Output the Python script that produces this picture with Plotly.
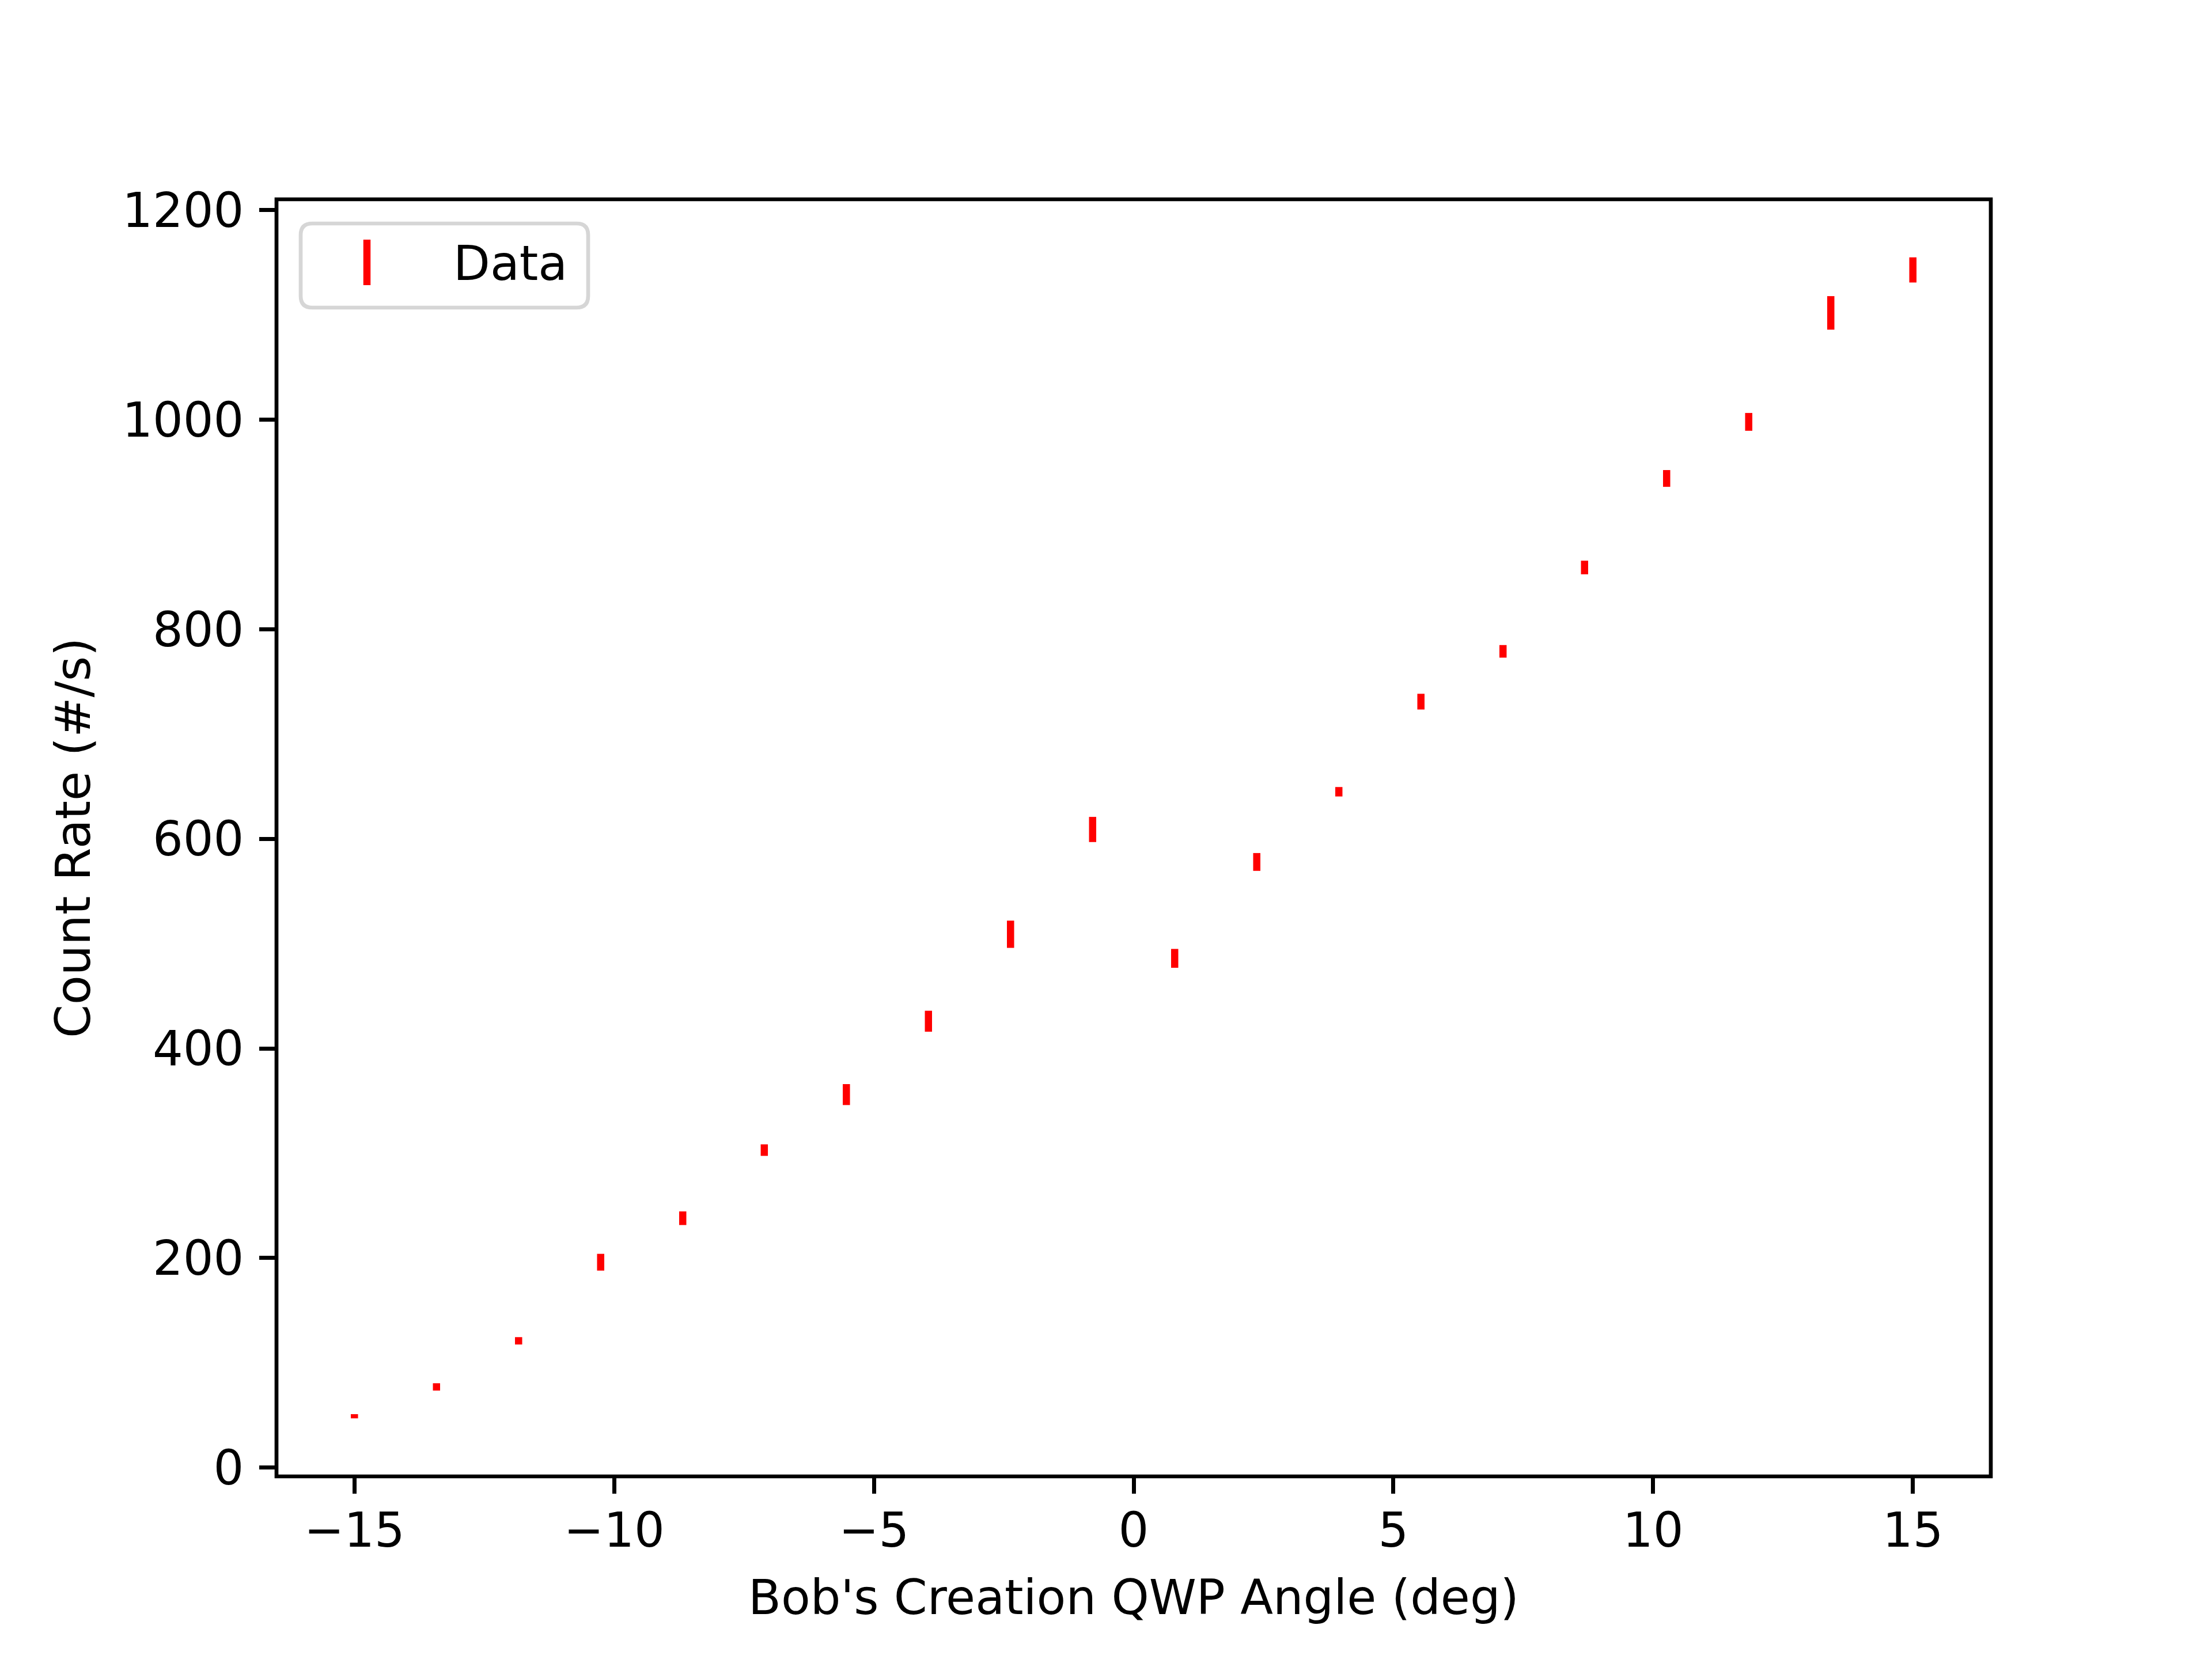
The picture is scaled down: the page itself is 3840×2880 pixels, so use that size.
import plotly.graph_objects as go

# -------------------------------------------------------
# Data
# -------------------------------------------------------
angle_deg = [-15.0, -13.42, -11.84, -10.26, -8.68, -7.11, -5.53, -3.95, -2.37, -0.79,
             0.79, 2.37, 3.95, 5.53, 7.11, 8.68, 10.26, 11.84, 13.42, 15.0]
count_rate = [49, 77, 121, 196, 238, 303, 356, 426, 509, 609,
              486, 578, 645, 731, 779, 859, 944, 998, 1102, 1143]
count_err = [2, 3.5, 3.5, 8, 6.5, 5.5, 10, 10, 13, 12,
             9, 8.5, 4.5, 7.5, 6, 6.5, 8, 8.5, 16, 12]

x_ticks = [-15, -10, -5, 0, 5, 10, 15]
y_ticks = [0, 200, 400, 600, 800, 1000, 1200]
legend_label = "Data"

# -------------------------------------------------------
# Figure geometry (matplotlib-like 6.4x4.8in @ 600dpi)
# page body has an 8px margin, so shift the plot area back by that much
# -------------------------------------------------------
W, H = 3840, 2880
BODY = 8
ML, MR, MT, MB = 480 - BODY, 384 + BODY, 346 - BODY, 317 + BODY
PW, PH = W - ML - MR, H - MT - MB
FONT = "DejaVu Sans"
FS = 83          # 10pt
LW = 6.7         # 0.8pt
EB_W = 12.5      # 1.5pt


def auto_range(lo, hi, frac=0.05):
    pad = (hi - lo) * frac
    return [lo - pad, hi + pad]


x_range = auto_range(min(angle_deg), max(angle_deg))
y_range = auto_range(min(v - e for v, e in zip(count_rate, count_err)),
                     max(v + e for v, e in zip(count_rate, count_err)))

fig = go.Figure()
fig.add_trace(go.Scatter(
    x=angle_deg,
    y=count_rate,
    mode="markers",
    marker=dict(size=2, opacity=0, color="red"),
    error_y=dict(type="data", array=count_err, visible=True,
                 color="red", thickness=EB_W, width=0),
    showlegend=False,
    name=legend_label,
))


# --- hand-made legend (plotly caps legend symbol size) ---
def px_x(px):
    return (px - ML) / PW


def px_y(py):
    return (H - MB - py) / PH


def rounded_rect(x0, y0, x1, y1, r):
    # pixel coords -> paper path with rounded corners
    rx, ry = r / PW, r / PH
    a, b, c, d = px_x(x0), px_x(x1), px_y(y1), px_y(y0)
    return (f"M {a + rx},{c} L {b - rx},{c} Q {b},{c} {b},{c + ry} "
            f"L {b},{d - ry} Q {b},{d} {b - rx},{d} "
            f"L {a + rx},{d} Q {a},{d} {a},{d - ry} "
            f"L {a},{c + ry} Q {a},{c} {a + rx},{c} Z")


# legend box sits 0.5em inside the top-left corner of the axes
LX0, LY0 = ML + 42, MT + 42
shapes = [
    # axes frame, centred on the plot edges like matplotlib spines
    dict(type="rect", xref="paper", yref="paper", x0=0, x1=1, y0=0, y1=1,
         line=dict(color="black", width=LW), fillcolor="rgba(0,0,0,0)",
         layer="above"),
    dict(type="path", xref="paper", yref="paper",
         path=rounded_rect(LX0, LY0, LX0 + 499, LY0 + 146, 20),
         line=dict(color="#d6d6d6", width=LW), fillcolor="rgba(255,255,255,0.8)",
         layer="above"),
    dict(type="line", xref="paper", yref="paper",
         x0=px_x(LX0 + 115), x1=px_x(LX0 + 115), y0=px_y(LY0 + 28), y1=px_y(LY0 + 107),
         line=dict(color="red", width=EB_W), layer="above"),
]

annotations = [
    dict(text=legend_label, xref="paper", yref="paper",
         x=px_x(LX0 + 263), y=px_y(LY0 + 70), xanchor="left", yanchor="middle",
         showarrow=False, font=dict(family=FONT, size=FS, color="black")),
]

axis_common = dict(
    showline=False,
    ticks="outside", ticklen=29, tickwidth=LW, tickcolor="black",
    showgrid=False, zeroline=False, automargin=False,
    tickfont=dict(family=FONT, size=FS, color="black"),
)

fig.update_layout(
    width=W, height=H, autosize=False,
    paper_bgcolor="white", plot_bgcolor="white",
    margin=dict(l=ML, r=MR, t=MT, b=MB, pad=0),
    showlegend=False,
    shapes=shapes,
    annotations=annotations,
    xaxis=dict(
        range=x_range, tickvals=x_ticks, ticklabelstandoff=-8,
        title=dict(text="Bob's Creation QWP Angle (deg)", standoff=40,
                   font=dict(family=FONT, size=FS, color="black")),
        **axis_common,
    ),
    yaxis=dict(
        range=y_range, tickvals=y_ticks, ticklabelstandoff=10,
        title=dict(text="Count Rate (#/s)", standoff=28,
                   font=dict(family=FONT, size=FS, color="black")),
        **axis_common,
    ),
)

fig.write_html("out.html")
